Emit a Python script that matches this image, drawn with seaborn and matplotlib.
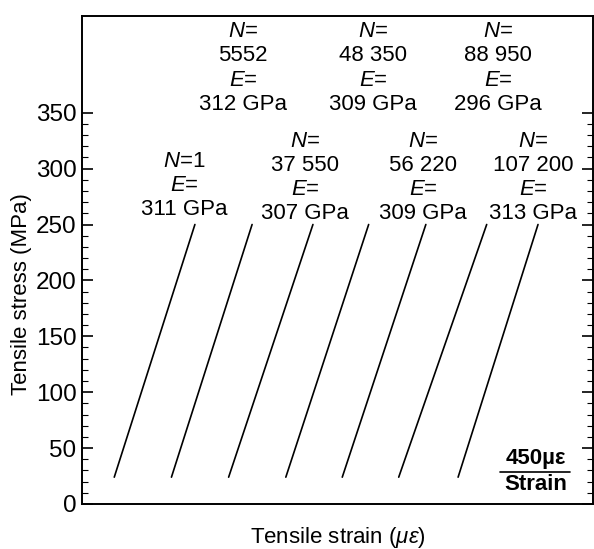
import numpy as np
import pandas as pd
import matplotlib
matplotlib.use("Agg")
import matplotlib.pyplot as plt
from matplotlib.ticker import FixedLocator
import seaborn as sns

# ---- data ----
cycles = ["1", "5552", "37 550", "48 350", "56 220", "88 950", "107 200"]
modulus_gpa = [311, 312, 307, 309, 309, 296, 313]
strain_start = [220, 610, 1000, 1390, 1775, 2160, 2565]     # micro-strain at low stress
strain_end = [770, 1160, 1575, 1955, 2345, 2760, 3110]      # micro-strain at high stress
stress_low = 24
stress_high = 250
y_ticks = [0, 50, 100, 150, 200, 250, 300, 350]

# ---- layout (label centres in data coords) ----
label_x = [696, 1098, 1521, 1985, 2326, 2837, 3076]
label_y = [285, 390, 292, 390, 292, 390, 292]

sns.set_style("ticks")
plt.rcParams["font.family"] = ["Liberation Sans", "DejaVu Sans"]
plt.rcParams["mathtext.fontset"] = "custom"
plt.rcParams["mathtext.rm"] = "Liberation Sans"
plt.rcParams["mathtext.it"] = "Liberation Sans:italic"
plt.rcParams["text.color"] = "black"
plt.rcParams["axes.labelcolor"] = "black"
plt.rcParams["ytick.color"] = "black"

rows = []
for n, s0, s1 in zip(cycles, strain_start, strain_end):
    rows.append({"N": n, "strain": s0, "stress": stress_low})
    rows.append({"N": n, "strain": s1, "stress": stress_high})
df = pd.DataFrame(rows)

fig = plt.figure(figsize=(5.94, 5.49), dpi=100)
ax = fig.add_axes([82 / 594, 1 - 504 / 549, (593 - 82) / 594, (504 - 16) / 549])

sns.lineplot(data=df, x="strain", y="stress", units="N", estimator=None,
             color="black", lw=1.2, ax=ax, legend=False, sort=False)

ax.set_xlim(0, 3485)
ax.set_ylim(0, 436.5)

for n, e, x, y in zip(cycles, modulus_gpa, label_x, label_y):
    if n == "1":
        txt = "$N$=1\n$E$=\n%d GPa" % e
    else:
        txt = "$N$=\n%s\n$E$=\n%d GPa" % (n, e)
    ax.text(x, y, txt, ha="center", va="center", fontsize=16,
            linespacing=1.2, color="black")

# strain scale bar
ax.text(3096, 41, "450\u00b5\u03b5", ha="center", va="center", fontsize=16,
        fontweight="bold")
ax.plot([2851, 3328], [28.6, 28.6], color="black", lw=1.2)
ax.text(3096, 17, "Strain", ha="center", va="center", fontsize=16,
        fontweight="bold")

ax.set_xticks([])
ax.yaxis.set_major_locator(FixedLocator(y_ticks))
ax.yaxis.set_minor_locator(FixedLocator(list(range(0, 351, 10))))
ax.tick_params(axis="y", which="both", direction="in", left=True, right=True,
               labelsize=17.5, pad=4, width=1.2, color="black", labelcolor="black")
ax.tick_params(axis="y", which="major", length=8)
ax.tick_params(axis="y", which="minor", length=4, width=0.8)

for sp in ax.spines.values():
    sp.set_visible(True)
    sp.set_linewidth(1.4)
    sp.set_color("black")

ax.set_ylabel("Tensile stress (MPa)", fontsize=16)
ax.yaxis.set_label_coords(-0.098, 0.43)
ax.set_xlabel(r"Tensile strain ($\mu\varepsilon$)", fontsize=16, labelpad=15)

fig.savefig("out.png", dpi=100)
